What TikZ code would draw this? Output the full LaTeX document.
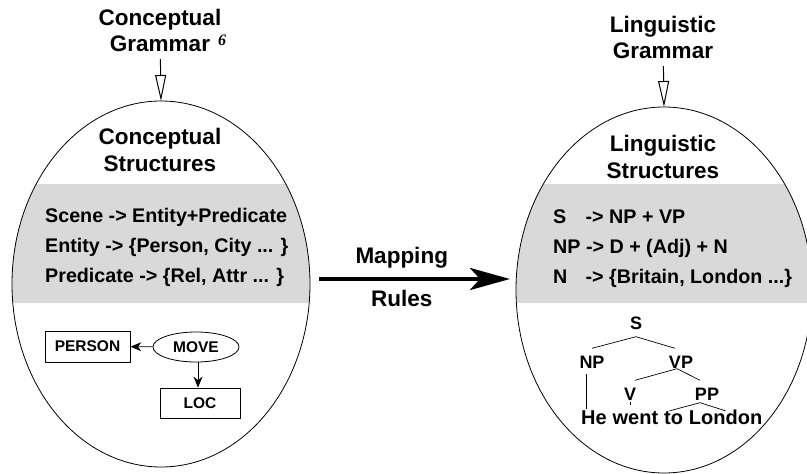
\documentclass[tikz,border=0pt]{standalone}
\usepackage{fontspec}
\setmainfont{Liberation Sans}
\newfontfamily\numfont{Liberation Serif}
\usetikzlibrary{positioning}
\usetikzlibrary{shapes}
\usetikzlibrary{arrows.meta}
\definecolor{band}{gray}{0.85}

\begin{document}
\begin{tikzpicture}[
		x=1pt, y=1pt,
		every node/.style={font=\bfseries},
		hd/.style={align=center, inner sep=0pt, font=\bfseries\fontsize{22.5}{26.5}\selectfont},
		rl/.style={align=left, anchor=west, inner sep=0pt, font=\bfseries\fontsize{19.7}{29.8}\selectfont},
		ov/.style={draw, ellipse, line width=0.8pt, minimum height=366pt, inner sep=0pt, outer sep=0pt},
		bx/.style={draw, line width=0.8pt, minimum height=31pt, font=\bfseries\fontsize{15.5}{15.5}\selectfont},
		tl/.style={inner xsep=2pt, inner ysep=7pt, text height=13pt, text depth=0pt, font=\bfseries\fontsize{18}{18}\selectfont},
		wd/.style={inner sep=1pt, text height=12pt, text depth=4pt, font=\bfseries\fontsize{20}{20}\selectfont},
		ga/.style={-{Triangle[open, length=26pt, width=11pt]}, line width=1pt},
		sa/.style={-{Stealth[length=11pt, width=9pt]}, line width=0.8pt},
		ma/.style={-{Stealth[length=40pt, width=22pt, inset=10pt]}, line width=4.5pt},
		tr/.style={line width=0.7pt},
	]
		\useasboundingbox (0,0) rectangle (807,-474);
		\coordinate (cc) at (161,-284);
		\coordinate (lc) at (664,-290);

		% grey rule bands
		\begin{scope}
			\clip (cc) ellipse [x radius=149, y radius=183];
			\fill[band] (0,-184) rectangle (330,-303);
		\end{scope}
		\begin{scope}
			\clip (lc) ellipse [x radius=148, y radius=183];
			\fill[band] (500,-184) rectangle (830,-303);
		\end{scope}

		\node[ov, minimum width=298pt] (cs) at (cc) {};
		\node[ov, minimum width=296pt] (ls) at (lc) {};

		\node[hd] (cg) at (160,-30.5) {Conceptual\\Grammar\rlap{\hspace{8pt}\raisebox{6pt}{\fontsize{16}{16}\selectfont\numfont\itshape 6}}};
		\node[hd] (lg) at (663,-37.5) {Linguistic\\Grammar};
		\node[hd] (ct) at (160,-150) {Conceptual\\Structures};
		\node[hd] (lt) at (663,-157) {Linguistic\\Structures};

		\draw[ga, shorten <=7pt] (cg) -- (cs.north);
		\draw[ga, shorten <=7pt] (lg) -- (ls.north);

		\node[rl] (cr) at (45,-247.5) {Scene -> Entity+Predicate\\Entity -> \{Person, City ... \}\\Predicate -> \{Rel, Attr ... \}};
		\node[rl] (lr) at (553,-248.5) {\makebox[27pt][l]{S}\ -> NP + VP\\NP -> D + (Adj) + N\\\makebox[27pt][l]{N}\ -> \{Britain, London ...\}};

		% mapping
		\path (cs.east) ++(9,5) coordinate (m1);
		\draw[ma, shorten >=6pt] (m1) -- (m1 -| ls.west)
			node[above=5pt, pos=0.42, font=\bfseries\fontsize{22.5}{22.5}\selectfont] (mp) {Mapping}
			node[below=6pt, pos=0.42, font=\bfseries\fontsize{22.5}{22.5}\selectfont] (ru) {Rules};

		% conceptual graph
		\node[bx, minimum width=85pt] (person) at (87.5,-346.5) {PERSON};
		\node[bx, ellipse, minimum width=86pt, minimum height=30pt, inner sep=0pt] (move) at (196,-347) {MOVE};
		\node[bx, minimum width=80pt, minimum height=30pt] (loc) at (200,-403) {LOC};
		\draw[sa] (move) -- (person);
		\draw[sa] ([xshift=2pt]move.south) -- ([xshift=2pt]move.south |- loc.north);

		% parse tree
		\node[tl] (s) at (636,-323) {S};
		\node[tl] (np) at (592,-362) {NP};
		\node[tl] (vp) at (681,-362) {VP};
		\node[tl] (v) at (630,-394) {V};
		\node[tl] (pp) at (707,-394) {PP};
		\node[wd, anchor=base west] (he) at (580,-424) {He};
		\node[wd, base right=3.5pt of he] (went) {went};
		\node[wd, base right=3.5pt of went] (to) {to};
		\node[wd, base right=3.5pt of to] (london) {London};

		\draw[tr] (np.north) -- (s.south) -- ([xshift=-6pt]vp.north);
		\draw[tr] ([xshift=5pt]v.north) -- ([xshift=-4pt, yshift=7pt]vp.south) -- ([xshift=-7pt]pp.north);
		\draw[tr] ([xshift=-4pt]to.north) -- ([xshift=-7pt, yshift=5pt]pp.south) -- (london.north);
		\draw[tr] ([xshift=-6pt, yshift=2pt]np.south) -- ([xshift=-6pt, yshift=2pt]np.south |- he.north);
		\draw[tr] ([yshift=6pt]v.south) -- ([yshift=6pt]v.south |- went.north);
	\end{tikzpicture}
\end{document}
